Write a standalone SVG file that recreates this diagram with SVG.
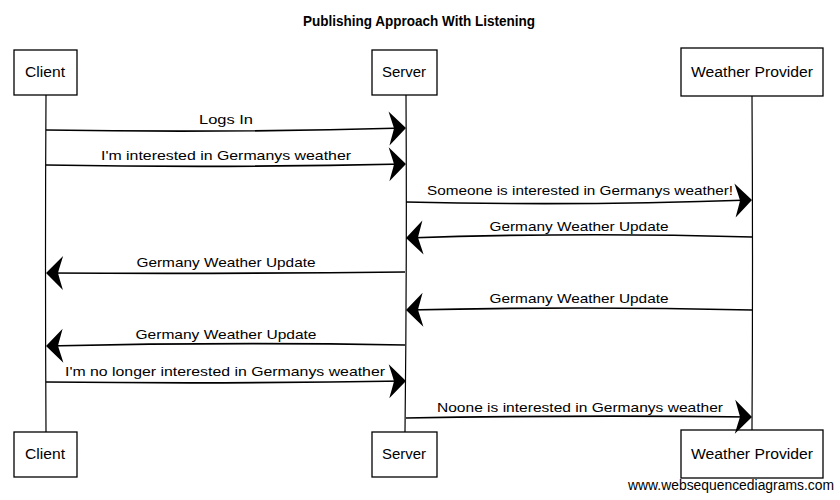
<svg xmlns="http://www.w3.org/2000/svg" width="840" height="500" viewBox="0 0 840 500">
<style>
.box{fill:#fff;stroke:#000;stroke-width:1.3}
.life{stroke:#000;stroke-width:1.2;fill:none}
.msg{stroke:#000;stroke-width:1.7;fill:none}
.lbl{font-family:"Liberation Sans",Arial,sans-serif;font-size:13px;fill:#000;text-anchor:middle}
.nm{font-family:"Liberation Sans",Arial,sans-serif;font-size:14px;fill:#000;text-anchor:middle}
.title{font-family:"Liberation Sans",Arial,sans-serif;font-size:14px;font-weight:bold;fill:#000;text-anchor:middle}
.wm{font-family:"Liberation Sans",Arial,sans-serif;font-size:14px;fill:#000}
</style>
<defs>
<marker id="ah" markerUnits="userSpaceOnUse" viewBox="-20 -19 22 38" refX="0" refY="0" markerWidth="22" markerHeight="38" orient="auto">
<path d="M1,0 L-16,-17 C-14,-10 -12,-4 -11,0 C-12,4 -14,10 -16,17 Z" fill="#000"/>
</marker>
</defs>
<rect width="840" height="500" fill="#fff"/>
<text class="title" x="419" y="26" textLength="232" lengthAdjust="spacingAndGlyphs">Publishing Approach With Listening</text>
<g id="lifelines">
<path class="life" d="M46,95 Q45,260 46,432"/>
<path class="life" d="M406,95 Q407,260 405,432"/>
<path class="life" d="M752,96 Q753,260 752,430"/>
</g>
<g id="client-top"><rect class="box" x="14" y="50" width="63" height="45"/><text class="nm" x="45" y="77" textLength="40" lengthAdjust="spacingAndGlyphs">Client</text></g>
<g id="server-top"><rect class="box" x="372" y="50" width="65" height="45"/><text class="nm" x="404" y="77" textLength="44" lengthAdjust="spacingAndGlyphs">Server</text></g>
<g id="provider-top"><rect class="box" x="681" y="48" width="142" height="48"/><text class="nm" x="752" y="77" textLength="122" lengthAdjust="spacingAndGlyphs">Weather Provider</text></g>
<g id="client-bottom"><rect class="box" x="14" y="432" width="63" height="45"/><text class="nm" x="45" y="459" textLength="40" lengthAdjust="spacingAndGlyphs">Client</text></g>
<g id="server-bottom"><rect class="box" x="372" y="432" width="65" height="45"/><text class="nm" x="404" y="459" textLength="44" lengthAdjust="spacingAndGlyphs">Server</text></g>
<g id="provider-bottom"><rect class="box" x="681" y="430" width="142" height="48"/><text class="nm" x="752" y="459" textLength="122" lengthAdjust="spacingAndGlyphs">Weather Provider</text></g>
<g id="connectors">
<path class="msg" d="M46,130 Q226,133 405,128" marker-end="url(#ah)"/>
<text class="lbl" x="226" y="124" textLength="54" lengthAdjust="spacingAndGlyphs">Logs In</text>
<path class="msg" d="M46,165 Q226,168 405,164" marker-end="url(#ah)"/>
<text class="lbl" x="226" y="160" textLength="250" lengthAdjust="spacingAndGlyphs">I'm interested in Germanys weather</text>
<path class="msg" d="M406,202 Q580,206 751,200" marker-end="url(#ah)"/>
<text class="lbl" x="580" y="195" textLength="306" lengthAdjust="spacingAndGlyphs">Someone is interested in Germanys weather!</text>
<path class="msg" d="M752,237 Q580,232 407,238" marker-end="url(#ah)"/>
<text class="lbl" x="579" y="231" textLength="179" lengthAdjust="spacingAndGlyphs">Germany Weather Update</text>
<path class="msg" d="M405,272 Q226,274 47,273" marker-end="url(#ah)"/>
<text class="lbl" x="226" y="267" textLength="179" lengthAdjust="spacingAndGlyphs">Germany Weather Update</text>
<path class="msg" d="M752,310 Q580,306 407,310" marker-end="url(#ah)"/>
<text class="lbl" x="579" y="303" textLength="179" lengthAdjust="spacingAndGlyphs">Germany Weather Update</text>
<path class="msg" d="M405,345 Q226,342 47,346" marker-end="url(#ah)"/>
<text class="lbl" x="226" y="339" textLength="181" lengthAdjust="spacingAndGlyphs">Germany Weather Update</text>
<path class="msg" d="M46,382 Q226,384 405,381" marker-end="url(#ah)"/>
<text class="lbl" x="225" y="376" textLength="320" lengthAdjust="spacingAndGlyphs">I'm no longer interested in Germanys weather</text>
<path class="msg" d="M406,418 Q580,415 751,417" marker-end="url(#ah)"/>
<text class="lbl" x="580" y="412" textLength="286" lengthAdjust="spacingAndGlyphs">Noone is interested in Germanys weather</text>
</g>
<text class="wm" x="628" y="490" textLength="206" lengthAdjust="spacingAndGlyphs">www.websequencediagrams.com</text>
</svg>
